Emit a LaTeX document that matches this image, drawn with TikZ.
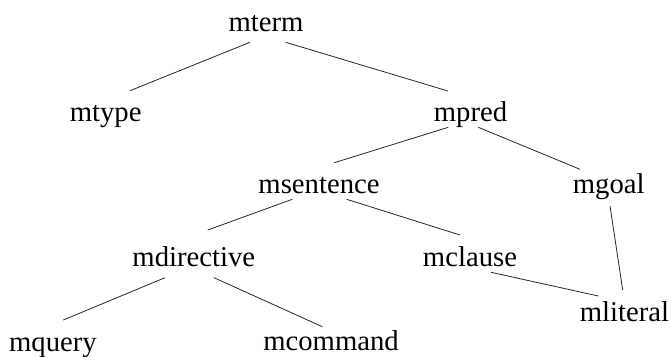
\documentclass[tikz,border=0pt]{standalone}
\usepackage{fontspec}
\setmainfont{Liberation Serif}
\begin{document}
\begin{tikzpicture}[x=1pt, y=-1pt,
  lbl/.style={inner sep=0pt, anchor=base, text=black,
    font=\fontsize{28.7}{34}\selectfont},
  edge/.style={draw=black!85, line width=0.8pt}]
\useasboundingbox (0,0) rectangle (671,356);

% module hierarchy
\node[lbl] (mterm)      at (266,31)    {mterm};
\node[lbl] (mtype)      at (105.7,121.7) {mtype};
\node[lbl] (mpred)      at (470.5,121.5) {mpred};
\node[lbl] (msentence)  at (319,193.5)  {msentence};
\node[lbl] (mgoal)      at (608.7,193.5) {mgoal};
\node[lbl] (mdirective) at (193.8,266.7) {mdirective};
\node[lbl] (mclause)    at (470,266.7)  {mclause};
\node[lbl] (mliteral)   at (624.5,321.7) {mliteral};
\node[lbl] (mquery)     at (53,351)     {mquery};
\node[lbl] (mcommand)   at (331,350.7)  {mcommand};

% dependency edges
\draw[edge] ([shift={(-16,11.3)}]mterm.base)      -- ([shift={(24.3,-31)}]mtype.base);
\draw[edge] ([shift={(19.7,11.3)}]mterm.base)     -- ([shift={(-22.5,-30.5)}]mpred.base);
\draw[edge] ([shift={(-22.2,5.8)}]mpred.base)     -- ([shift={(15.3,-30.8)}]msentence.base);
\draw[edge] ([shift={(7.8,5.8)}]mpred.base)       -- ([shift={(-28.7,-24.2)}]mgoal.base);
\draw[edge] ([shift={(-26.7,5.8)}]msentence.base) -- ([shift={(13.9,-36.7)}]mdirective.base);
\draw[edge] ([shift={(27.7,5.8)}]msentence.base)  -- ([shift={(-10,-31.7)}]mclause.base);
\draw[edge] ([shift={(1.3,12.5)}]mgoal.base)      -- ([shift={(-1.8,-31.7)}]mliteral.base);
\draw[edge] ([shift={(21,5.6)}]mclause.base)      -- ([shift={(-26.2,-25.7)}]mliteral.base);
\draw[edge] ([shift={(-28.8,11)}]mdirective.base) -- ([shift={(10.3,-31)}]mquery.base);
\draw[edge] ([shift={(20.2,11)}]mdirective.base)  -- ([shift={(-8.7,-24)}]mcommand.base);
\end{tikzpicture}
\end{document}
